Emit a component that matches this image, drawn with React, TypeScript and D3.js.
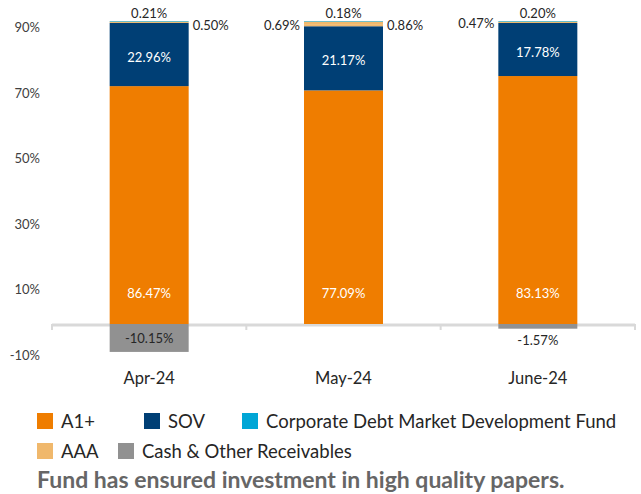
import React from "react";
import * as d3 from "d3";

const categories = ["Apr-24", "May-24", "June-24"];
const a1Plus = [86.47, 77.09, 83.13];
const sov = [22.96, 21.17, 17.78];
const otherLeft = [0, 0.69, 0.47];
const aaa = [0.5, 0.86, 0];
const cdmdf = [0.21, 0.18, 0.2];
const cash = [-10.15, 0, -1.57];
const yTicks = [-10, 10, 30, 50, 70, 90];

const seriesList = [
  { key: "A1+", values: a1Plus, color: "#EF7D00", label: "insideBase" },
  { key: "SOV", values: sov, color: "#003F75", label: "center" },
  { key: "Other", values: otherLeft, color: "#F0B86C", label: "left" },
  { key: "AAA", values: aaa, color: "#F0B86C", label: "right" },
  { key: "Corporate Debt Market Development Fund", values: cdmdf, color: "#00A6D6", label: "top" },
  { key: "Cash & Other Receivables", values: cash, color: "#919191", label: "cash" },
];

const legendRows = [
  [
    { name: "A1+", color: "#EF7D00", x: 37 },
    { name: "SOV", color: "#003F75", x: 144 },
    { name: "Corporate Debt Market Development Fund", color: "#00A6D6", x: 242 },
  ],
  [
    { name: "AAA", color: "#F0B86C", x: 37 },
    { name: "Cash & Other Receivables", color: "#919191", x: 118 },
  ],
];

const W = 641;
const H = 494;
const FONT = "Lato, 'Open Sans', sans-serif";

export default function App() {
  const x = d3.scaleBand<string>().domain(categories).range([52, 635]).padding(0);
  const barW = 79;
  const y = d3.scaleLinear().domain([0, 100]).range([324, 21]);
  const tickScale = d3.scaleLinear().domain([-10, 90]).range([355, 27.3]);
  const fmt = (v: number) => `${v.toFixed(2)}%`;

  const bars: React.ReactNode[] = [];
  const labels: React.ReactNode[] = [];

  categories.forEach((c, i) => {
    const posSum = seriesList.reduce((s, se) => s + Math.max(0, se.values[i]), 0);
    const norm = (v: number) => (v / posSum) * 100;
    const x0 = (x(c) as number) + (x.bandwidth() - barW) / 2;
    const cx = x0 + barW / 2;
    let posBase = 0;
    let negBase = 0;
    seriesList.forEach((se) => {
      const v = se.values[i];
      if (v === 0) return;
      let lo: number, hi: number;
      if (v > 0) {
        lo = posBase;
        hi = posBase + norm(v);
        posBase = hi;
      } else {
        hi = negBase;
        lo = negBase + norm(v);
        negBase = lo;
      }
      const yTop = y(hi);
      const yBot = y(lo);
      bars.push(
        <rect key={`${se.key}-${c}`} x={x0} y={yTop} width={barW} height={Math.max(0, yBot - yTop)} fill={se.color} />
      );
      const txt = fmt(v);
      const common = { fontFamily: FONT, fontSize: 13 } as const;
      if (se.label === "insideBase") {
        labels.push(
          <text key={`l-${se.key}-${c}`} x={cx} y={y(0) - 31} textAnchor="middle" dominantBaseline="central" fill="#ffffff" {...common}>{txt}</text>
        );
      } else if (se.label === "center") {
        labels.push(
          <text key={`l-${se.key}-${c}`} x={cx} y={(yTop + yBot) / 2 + 2} textAnchor="middle" dominantBaseline="central" fill="#ffffff" {...common}>{txt}</text>
        );
      } else if (se.label === "left") {
        labels.push(
          <text key={`l-${se.key}-${c}`} x={x0 - 4} y={yTop + 1} textAnchor="end" dominantBaseline="central" fill="#262626" {...common}>{txt}</text>
        );
      } else if (se.label === "right") {
        labels.push(
          <text key={`l-${se.key}-${c}`} x={x0 + barW + 4} y={yTop + 3} textAnchor="start" dominantBaseline="central" fill="#262626" {...common}>{txt}</text>
        );
      } else if (se.label === "top") {
        labels.push(
          <text key={`l-${se.key}-${c}`} x={cx} y={yTop - 8} textAnchor="middle" dominantBaseline="central" fill="#262626" {...common}>{txt}</text>
        );
      } else if (se.label === "cash") {
        const inside = yBot - yTop > 18;
        labels.push(
          <text key={`l-${se.key}-${c}`} x={cx} y={inside ? (yTop + yBot) / 2 : yBot + 11} textAnchor="middle" dominantBaseline="central" fill="#262626" {...common}>{txt}</text>
        );
      }
    });
  });

  const boundaries = [52, ...categories.map((c) => (x(c) as number) + x.bandwidth())];

  return (
    <svg width={W} height={H} style={{ position: "absolute", left: 0, top: 0, background: "#fff" }}>
      {yTicks.map((t) => (
        <text key={t} x={40} y={tickScale(t)} textAnchor="end" dominantBaseline="central" fontFamily={FONT} fontSize={13} fill="#404040">
          {`${t}%`}
        </text>
      ))}
      <line x1={52} x2={635} y1={325} y2={325} stroke="#D9D9D9" strokeWidth={3} />
      {boundaries.map((b, i) => (
        <line key={i} x1={b} x2={b} y1={324} y2={330} stroke="#D9D9D9" strokeWidth={2} />
      ))}
      {bars}
      {labels}
      {categories.map((c) => (
        <text key={c} x={(x(c) as number) + x.bandwidth() / 2} y={378} textAnchor="middle" dominantBaseline="central" fontFamily={FONT} fontSize={16.5} fill="#262626">
          {c}
        </text>
      ))}
      {legendRows.map((row, ri) =>
        row.map((it) => (
          <g key={it.name} transform={`translate(${it.x},${421 + ri * 30})`}>
            <rect x={0} y={-8} width={16} height={16} fill={it.color} />
            <text x={24} y={0} dominantBaseline="central" fontFamily={FONT} fontSize={18.5} fill="#262626">
              {it.name}
            </text>
          </g>
        ))
      )}
      <text x={37} y={479} dominantBaseline="central" fontFamily={FONT} fontSize={23} fontWeight="bold" fill="#666666">
        Fund has ensured investment in high quality papers.
      </text>
    </svg>
  );
}
